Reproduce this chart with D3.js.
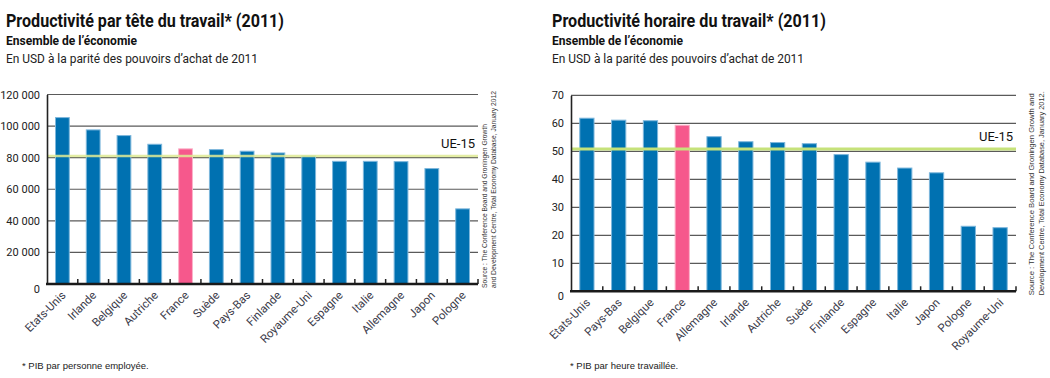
<!DOCTYPE html>
<html>
<head>
<meta charset="utf-8">
<script src="https://cdn.jsdelivr.net/npm/d3@7/dist/d3.min.js"></script>
<style>
  body { margin: 0; background: #fff; }
  svg { display: block; font-family: "Liberation Sans Narrow", "Roboto", sans-serif; }
</style>
</head>
<body>
<script>
"use strict";

// Productivité par tête (USD PPA 2011)
const leftCountries = ["Etats-Unis", "Irlande", "Belgique", "Autriche", "France", "Suède", "Pays-Bas",
  "Finlande", "Royaume-Uni", "Espagne", "Italie", "Allemagne", "Japon", "Pologne"];
const leftValues = [105700, 97900, 94300, 88800, 85900, 85400, 84400, 83300, 81400, 78000, 78000, 77800, 73400, 47900];
const leftEU = 81000;
const leftTicks = [0, 20000, 40000, 60000, 80000, 100000, 120000];

// Productivité horaire (USD PPA 2011)
const rightCountries = ["Etats-Unis", "Pays-Bas", "Belgique", "France", "Allemagne", "Irlande", "Autriche",
  "Suède", "Finlande", "Espagne", "Italie", "Japon", "Pologne", "Royaume-Uni"];
const rightValues = [62.0, 61.3, 61.1, 59.5, 55.4, 53.6, 53.3, 52.9, 49.0, 46.3, 44.2, 42.5, 23.4, 22.9];
const rightEU = 50.8;
const rightTicks = [0, 10, 20, 30, 40, 50, 60, 70];

const width = 1050;
const height = 378;
const blue = "#0071b1";
const pink = "#f6588c";

const fmt = d3.formatLocale({ decimal: ",", thousands: " ", grouping: [3], currency: ["", ""] }).format(",");

const svg = d3.select("body").append("svg")
  .attr("width", width)
  .attr("height", height);

function drawChart(c) {
  const g = svg.append("g");

  // titles
  g.append("text").attr("x", c.tx).attr("y", 27)
    .attr("font-size", 18).attr("font-weight", "bold").attr("fill", "#111")
    .attr("textLength", c.titleLen).attr("lengthAdjust", "spacingAndGlyphs")
    .text(c.title);
  g.append("text").attr("x", c.tx).attr("y", 45)
    .attr("font-size", 12.5).attr("font-weight", "bold").attr("fill", "#111")
    .attr("textLength", 131).attr("lengthAdjust", "spacingAndGlyphs")
    .text("Ensemble de l’économie");
  g.append("text").attr("x", c.tx).attr("y", 63)
    .attr("font-size", 12.5).attr("fill", "#222")
    .attr("textLength", 252).attr("lengthAdjust", "spacingAndGlyphs")
    .text("En USD à la parité des pouvoirs d’achat de 2011");

  const x = d3.scaleBand().domain(c.countries).range([c.x0, c.x1]).paddingInner(0.52).paddingOuter(0.26);
  const y = d3.scaleLinear().domain([0, c.ticks[c.ticks.length - 1]]).range([c.y0, c.y1]);

  // gridlines
  g.append("g").selectAll("line").data(c.ticks.slice(1)).join("line")
    .attr("x1", c.x0).attr("x2", c.x1)
    .attr("y1", d => y(d)).attr("y2", d => y(d))
    .attr("stroke", "#5a5a5a").attr("stroke-width", 1.2);

  // bars
  g.append("g").selectAll("rect").data(c.countries).join("rect")
    .attr("x", d => x(d) + 0.5)
    .attr("y", (d, i) => y(c.values[i]) + 0.5)
    .attr("width", x.bandwidth() - 1)
    .attr("height", (d, i) => c.y0 - y(c.values[i]) - 0.5)
    .attr("fill", d => d === "France" ? pink : blue)
    .attr("stroke", d => d === "France" ? "#fbb2c9" : "#7db7dc")
    .attr("stroke-width", 1);

  // UE-15 line
  g.append("line")
    .attr("x1", c.x0).attr("x2", c.x1)
    .attr("y1", y(c.eu)).attr("y2", y(c.eu))
    .attr("stroke", c.euColor).attr("stroke-width", c.euWidth).attr("opacity", c.euOpacity);
  g.append("text").attr("x", c.x1 - 3).attr("y", y(c.eu) - 8)
    .attr("text-anchor", "end").attr("font-size", 13).attr("fill", "#111")
    .text("UE-15");

  // y axis
  const yAxis = d3.axisLeft(y).tickValues(c.ticks).tickSize(0).tickPadding(7).tickFormat(fmt);
  const ya = g.append("g").attr("transform", `translate(${c.x0},0)`).call(yAxis);
  ya.select(".domain").attr("stroke", "#222").attr("stroke-width", 1.6);
  ya.selectAll(".tick text").attr("font-size", 11).attr("fill", "#222")
    .attr("font-family", "\"Liberation Sans Narrow\", Roboto, sans-serif");
  ya.selectAll(".tick").filter(d => d === 0).select("text").attr("dy", "0.75em");

  // x axis with inward ticks between bars
  const step = x.step();
  const bounds = d3.range(1, c.countries.length + 1).map(i => c.x0 + i * step);
  g.append("g").selectAll("line").data(bounds).join("line")
    .attr("x1", d => d).attr("x2", d => d)
    .attr("y1", c.y0).attr("y2", c.y0 - 5)
    .attr("stroke", "#222").attr("stroke-width", 1.5);
  g.append("line").attr("x1", c.x0 - 1).attr("x2", c.x1)
    .attr("y1", c.y0).attr("y2", c.y0)
    .attr("stroke", "#1a1a1a").attr("stroke-width", 2.5);

  // category labels
  g.append("g").selectAll("text").data(c.countries).join("text")
    .attr("transform", d => `translate(${x(d) + x.bandwidth() / 2 + 4},${c.y0 + 12}) rotate(-45)`)
    .attr("text-anchor", "end")
    .attr("font-size", 11.5)
    .attr("fill", "#3b3b4a")
    .text(d => d);

  // source
  const src = g.append("g").attr("font-size", c.srcSize).attr("fill", "#333")
    .attr("font-family", "\"Liberation Sans\", Arial, sans-serif");
  c.source.forEach((s, i) => {
    src.append("text")
      .attr("transform", `translate(${c.srcX + i * c.srcGap},${c.y0 + 4}) rotate(-90)`)
      .attr("textLength", c.srcLen[i]).attr("lengthAdjust", "spacingAndGlyphs")
      .text(s);
  });

  // footnote
  g.append("text").attr("x", c.fx).attr("y", 369)
    .attr("font-size", 9.5).attr("fill", "#222")
    .attr("font-family", "\"Liberation Sans\", Arial, sans-serif")
    .text(c.note);
}

drawChart({
  title: "Productivité par tête du travail* (2011)",
  titleLen: 278, tx: 6,
  countries: leftCountries, values: leftValues, eu: leftEU, ticks: leftTicks,
  x0: 47, x1: 478, y0: 284, y1: 94.5,
  euColor: "#dfeb95", euWidth: 2.5, euOpacity: 0.85,
  source: ["Source : The Conference Board and Groningen Growth",
    "and Development Centre, Total Economy Database, January 2012"],
  srcX: 487, srcGap: 9, srcSize: 7, srcLen: [164, 197],
  fx: 22, note: "* PIB par personne employée."
});

drawChart({
  title: "Productivité horaire du travail* (2011)",
  titleLen: 274, tx: 552,
  countries: rightCountries, values: rightValues, eu: rightEU, ticks: rightTicks,
  x0: 571, x1: 1016, y0: 291.3, y1: 95.3,
  euColor: "#c6e27a", euWidth: 3, euOpacity: 1,
  source: ["Source : The Conference Board and Groningen Growth and",
    "Development Centre, Total Economy Database, January 2012."],
  srcX: 1034, srcGap: 10, srcSize: 8, srcLen: [202, 204],
  fx: 570, note: "* PIB par heure travaillée."
});
</script>
</body>
</html>
